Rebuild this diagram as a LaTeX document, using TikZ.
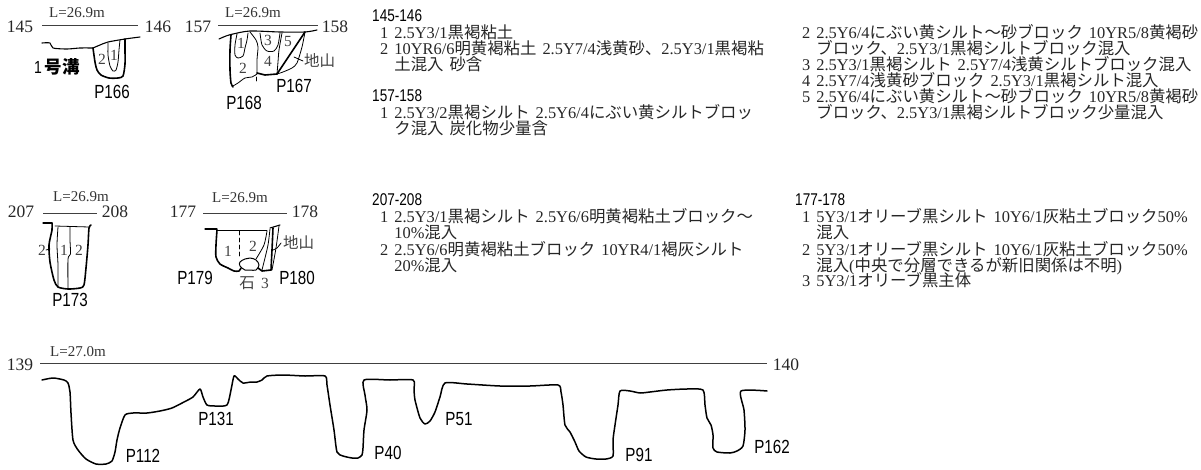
\documentclass[tikz,border=0pt]{standalone}
\usepackage{fontspec}
\setmainfont{Liberation Serif}
\newfontfamily\jp{Noto Sans CJK JP}
\newfontfamily\pf[FakeStretch=0.8]{Liberation Sans}
\newcommand\J[1]{{\jp #1}}
\newcommand\legendfont{\fontsize{16.4}{16.4}\selectfont\spaceskip=6pt\relax}
\begin{document}
\begin{tikzpicture}[x=1pt,y=-1pt,
  num/.style={font=\fontsize{17.5}{17.5}\selectfont, inner sep=0, text=black!85},
  lev/.style={font=\fontsize{15}{15}\selectfont, inner sep=0, text=black!80},
  pl/.style={font=\pf\fontsize{19}{19}\selectfont, inner sep=0},
  lay/.style={font=\fontsize{15.5}{15.5}\selectfont, inner sep=0, text=black!75},
  hd/.style={font=\pf\fontsize{17}{17}\selectfont, inner sep=0, anchor=base west},
  lg/.style={font=\legendfont, inner sep=0, anchor=base west, text=black!85},
  rule/.style={line width=0.8pt, black!75},
  wall/.style={line width=1.6pt, line join=round, line cap=round},
  seam/.style={line width=0.8pt, line join=round, line cap=round},
  sm/.style={smooth, tension=0.45}]
\useasboundingbox (0,0) rectangle (1201,470);

% ---------- section 145-146 ----------
\node[num] (n145) at (20,27) {145};
\node[num] (n146) at (158,27) {146};
\node[lev] (lv1) at (77,13) {L=26.9m};
\draw[rule] (42,25) -- (138,25);
\draw[seam, line width=1.1pt] plot[sm] coordinates {(42,43) (50,43) (53,48) (67,49) (80,48) (93,48)};
\draw[seam, line width=1.1pt] plot[sm] coordinates {(93,48) (100,45) (108,42) (125,39) (140,37)};
\draw[wall] plot[sm] coordinates {(93,48) (95,62) (97,70) (101,75) (109,78) (118,78) (123,76) (125,64) (125,50) (125,39)};
\draw[seam] plot[sm] coordinates {(108,43) (108,55) (110,66) (113,71) (116,70) (118,62) (119,50) (120,40)};
\node[lay] (a2) at (102,59) {2};
\node[lay] (a1) at (114,55) {1};
\node[inner sep=0] (ditch) at (57,67) {\pf\fontsize{17.5}{17.5}\selectfont 1\,\J{\bfseries 号溝}};
\node[pl] (p166) at (112,92) {P166};

% ---------- section 157-158 ----------
\node[num] (n157) at (198,27) {157};
\node[num] (n158) at (335,27) {158};
\node[lev] (lv2) at (253,13) {L=26.9m};
\draw[rule] (218,25) -- (318,25);
\draw[seam, line width=1.1pt] plot[sm] coordinates {(219,39) (226,36) (233,34) (250,31) (280,32) (305,32) (317,30)};
% P168
\draw[wall] plot[sm] coordinates {(231,35) (230,50) (230,70) (231,83) (233,87)};
\draw[seam] plot[sm] coordinates {(233,86) (238,83) (245,78) (252,77) (257,74)};
\draw[seam] (256,77) -- (256,81);
\draw[seam] plot[sm] coordinates {(237,34) (235,45) (235,55) (238,58) (243,56) (245,48) (247,40) (248,33)};
\draw[seam] plot[sm] coordinates {(250,32) (256,40) (258,47) (257,60) (257,74)};
% P167
\draw[wall] (257,73) -- (265,75) -- (277,74);
\draw[wall] (305,32) -- (277,74);
\draw[seam] plot[sm] coordinates {(260,33) (262,45) (267,51) (274,51) (278,45) (280,33)};
\draw[seam] plot[sm] coordinates {(282,33) (279,50) (278,62) (277,74)};
\draw[seam] plot[sm] coordinates {(305,32) (302,47) (297,63) (292,68) (283,72) (277,74)};
\draw[seam] (294,57) -- (303,61);
\node[lay] (b1) at (241,43) {1};
\node[lay] (b2) at (243,68) {2};
\node[lay] (b3) at (268,40) {3};
\node[lay] (b4) at (268,61) {4};
\node[lay] (b5) at (288,42) {5};
\node[lay, anchor=west] (bj) at (304,61) {\J{地山}};
\node[pl] (p167) at (294,86) {P167};
\node[pl] (p168) at (244,103) {P168};

% ---------- section 207-208 ----------
\node[num] (n207) at (21,212) {207};
\node[num] (n208) at (115,212) {208};
\node[lev] (lv3) at (81,197) {L=26.9m};
\draw[rule] (43,213) -- (97,213);
\draw[seam, line width=1.1pt] (43,223) -- (52,223);
\draw[wall] plot[sm] coordinates {(52,223) (52,230) (49,245) (50,262) (54,280) (58,287) (68,289) (80,288) (84,285) (86,268) (88,245) (89,228) (91,225)};
\draw[seam] (55,226) -- (89,227);
\draw[seam] plot[sm] coordinates {(58,227) (57,245) (58,265) (58,287)};
\draw[seam] plot[sm] coordinates {(70,227) (70,240) (70.5,254) (68,259) (68,288)};
\draw[seam] (46,250) -- (50,249);
\node[lay] (c2l) at (42,250) {2};
\node[lay] (c1) at (64,250) {1};
\node[lay] (c2r) at (79,250) {2};
\node[pl] (p173) at (70,300) {P173};

% ---------- section 177-178 ----------
\node[num] (n177) at (183,212) {177};
\node[num] (n178) at (305,212) {178};
\node[lev] (lv4) at (240,198) {L=26.9m};
\draw[rule] (203,213) -- (287,213);
\draw[seam, line width=1.1pt] (205,229) -- (217,229);
\draw[seam] (217,230) -- (267,230);
\draw[seam, line width=1.1pt] (270,228) -- (280,225);
\draw[wall] plot[sm] coordinates {(217,230) (216,245) (216,257) (220,264) (228,268) (234,271) (239,271) (241,268)};
\draw[seam, line width=1pt] plot[smooth cycle, tension=0.6] coordinates {(240,266) (240,262) (245,259) (250,258) (256,260) (259,265) (256,270) (250,270) (245,270)};
\draw[seam, dashed, dash pattern=on 4pt off 3pt] (239,231) -- (239,258);
\draw[seam] plot[sm] coordinates {(267,231) (264,245) (256,259)};
\draw[seam] plot[sm] coordinates {(270,229) (268,245) (264,262) (262,270)};
\draw[wall] plot[sm] coordinates {(273,228) (272,250) (271,270)};
\draw[wall] (258,268) -- (262,271) -- (271,270);
\draw[seam] plot[sm] coordinates {(279,226) (276,248) (272,270)};
\draw[seam] plot[sm] coordinates {(273,250) (277,248) (281,243)};
\node[lay] (d1) at (228,251) {1};
\node[lay] (d2) at (253,246) {2};
\node[lay] (dst) at (247,283) {\J{石}};
\node[lay] (d3) at (265,283) {3};
\node[lay, anchor=west] (dj) at (283,243) {\J{地山}};
\node[pl] (p179) at (195,278) {P179};
\node[pl] (p180) at (297,278) {P180};

% ---------- section 139-140 ----------
\node[num] (n139) at (20,365) {139};
\node[num] (n140) at (786,365) {140};
\node[lev] (lv5) at (78,352) {L=27.0m};
\draw[rule] (40,363) -- (767,363);
\draw[wall, line width=1.5pt] plot[smooth, tension=0.4] coordinates {
 (42,380) (53,378) (64,380) (68,383) (70,392) (71,413) (73,440) (78,450) (86,459) (96,464) (106,464) (112,461)
 (115,452) (117,440) (120,428) (125,415) (133,413) (147,413) (160,411) (172,408) (184,402) (193,397) (200,389)
 (203,397) (207,405) (215,406) (227,405) (231,390) (234,376) (238,379) (243,383) (251,382) (257,382) (262,380)
 (267,376) (283,375) (305,376) (325,376) (327,385) (330,405) (334,430) (337,452) (343,456) (352,458) (358,458)
 (362,455) (363,448) (364,430) (367,410) (365,395) (364,380) (390,380) (413,380) (414,390) (415,400) (420,418)
 (425,424) (430,421) (435,412) (440,397) (445,383) (467,384) (500,386) (530,386) (558,385) (561,392) (563,405)
 (565,425) (570,432) (575,442) (579,451) (586,457) (596,459) (606,459) (613,456) (613,440) (615,425) (618,405)
 (620,391) (630,391) (640,393) (650,392) (667,390) (687,389) (703,390) (705,405) (707,418) (711,425) (713,435)
 (713,448) (717,452) (730,453) (737,451) (743,446) (745,430) (744,410) (741,391) (767,391)};
\node[pl] (p112) at (143,456) {P112};
\node[pl] (p131) at (216,419) {P131};
\node[pl] (p40) at (388,453) {P40};
\node[pl] (p51) at (459,419) {P51};
\node[pl] (p91) at (639,455) {P91};
\node[pl] (p162) at (772,447) {P162};

% ---------- legends ----------
\node[hd] (h1) at (372,22) {145-146};
\node[lg] (g11) at (380,39) {1 2.5Y3/1\J{黒褐粘土}};
\node[lg] (g12) at (380,55) {2 10YR6/6\J{明黄褐粘土} 2.5Y7/4\J{浅黄砂、}2.5Y3/1\J{黒褐粘}};
\node[lg] (g13) at (380,71) {\hphantom{2 }\J{土混入} \J{砂含}};
\node[hd] (h2) at (372,102) {157-158};
\node[lg] (g21) at (380,119) {1 2.5Y3/2\J{黒褐シルト} 2.5Y6/4\J{にぶい黄シルトブロッ}};
\node[lg] (g22) at (380,135) {\hphantom{1 }\J{ク混入} \J{炭化物少量含}};

\node[lg] (g31) at (802,39) {2 2.5Y6/4\J{にぶい黄シルト～砂ブロック} 10YR5/8\J{黄褐砂}};
\node[lg] (g32) at (802,55) {\hphantom{2 }\J{ブロック、}2.5Y3/1\J{黒褐シルトブロック混入}};
\node[lg] (g33) at (802,71) {3 2.5Y3/1\J{黒褐シルト} 2.5Y7/4\J{浅黄シルトブロック混入}};
\node[lg] (g34) at (802,87) {4 2.5Y7/4\J{浅黄砂ブロック} 2.5Y3/1\J{黒褐シルト混入}};
\node[lg] (g35) at (802,103) {5 2.5Y6/4\J{にぶい黄シルト～砂ブロック} 10YR5/8\J{黄褐砂}};
\node[lg] (g36) at (802,119) {\hphantom{5 }\J{ブロック、}2.5Y3/1\J{黒褐シルトブロック少量混入}};

\node[hd] (h3) at (372,206) {207-208};
\node[lg] (g41) at (380,223) {1 2.5Y3/1\J{黒褐シルト} 2.5Y6/6\J{明黄褐粘土ブロック～}};
\node[lg] (g42) at (380,239) {\hphantom{1 }10\%\J{混入}};
\node[lg] (g43) at (380,255) {2 2.5Y6/6\J{明黄褐粘土ブロック} 10YR4/1\J{褐灰シルト}};
\node[lg] (g44) at (380,271) {\hphantom{2 }20\%\J{混入}};

\node[hd] (h4) at (795,206) {177-178};
\node[lg] (g51) at (802,223) {1 5Y3/1\J{オリーブ黒シルト} 10Y6/1\J{灰粘土ブロック}50\%};
\node[lg] (g52) at (802,239) {\hphantom{1 }\J{混入}};
\node[lg] (g53) at (802,255) {2 5Y3/1\J{オリーブ黒シルト} 10Y6/1\J{灰粘土ブロック}50\%};
\node[lg] (g54) at (802,271) {\hphantom{2 }\J{混入}(\J{中央で分層できるが新旧関係は不明})};
\node[lg] (g55) at (802,287) {3 5Y3/1\J{オリーブ黒主体}};
\end{tikzpicture}
\end{document}
